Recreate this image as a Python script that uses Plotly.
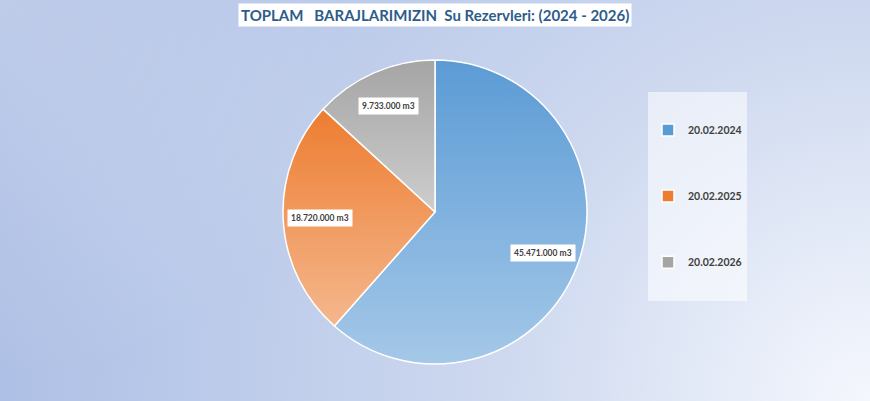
import base64
import math
import plotly.graph_objects as go

# ---- data ----
dates = ["20.02.2024", "20.02.2025", "20.02.2026"]
volumes = [45471000, 18720000, 9733000]
unit = "m3"
title_text = "TOPLAM\u00a0\u00a0\u00a0BARAJLARIMIZIN\u00a0\u00a0Su Rezervleri: (2024 - 2026)"

# ---- style ----
colors = ["#5b9bd5", "#ed7d31", "#a5a5a5"]
W, H = 870, 401
CX, CY, R = 435, 212, 152
LABEL_R = 0.76


def fmt(v):
    return f"{v:,}".replace(",", ".") + " " + unit


def b64svg(svg):
    return "data:image/svg+xml;base64," + base64.b64encode(svg.encode("utf-8")).decode("ascii")


# background gradient
bg_svg = f'''<svg xmlns="http://www.w3.org/2000/svg" width="{W}" height="{H}" viewBox="0 0 {W} {H}" preserveAspectRatio="none">
<defs>
<radialGradient id="g1" cx="{W}" cy="{H}" r="950" gradientUnits="userSpaceOnUse">
<stop offset="0" stop-color="#f5f7fd"/>
<stop offset="0.15" stop-color="#e6ecf8"/>
<stop offset="0.4" stop-color="#cdd8ef"/>
<stop offset="0.75" stop-color="#b8c8e9"/>
<stop offset="1" stop-color="#a9bbe3"/>
</radialGradient>
<radialGradient id="g2" cx="0" cy="0" r="380" gradientUnits="userSpaceOnUse">
<stop offset="0" stop-color="#ffffff" stop-opacity="0.25"/>
<stop offset="1" stop-color="#ffffff" stop-opacity="0"/>
</radialGradient>
</defs>
<rect width="{W}" height="{H}" fill="url(#g1)"/>
<rect width="{W}" height="{H}" fill="url(#g2)"/>
</svg>'''

# per-slice white sheen (gradient within each slice), derived from data
total = sum(volumes)
paths = []
mids = []
a0 = 0.0
for v in volumes:
    a1 = a0 + v / total * 2 * math.pi
    p0 = (R + R * math.sin(a0), R - R * math.cos(a0))
    p1 = (R + R * math.sin(a1), R - R * math.cos(a1))
    large = 1 if (a1 - a0) > math.pi else 0
    paths.append(f'<path d="M{R},{R} L{p0[0]:.3f},{p0[1]:.3f} A{R},{R} 0 {large} 1 {p1[0]:.3f},{p1[1]:.3f} Z" fill="url(#sg)"/>')
    mids.append((a0 + a1) / 2)
    a0 = a1
sheen_svg = f'''<svg xmlns="http://www.w3.org/2000/svg" width="{2*R}" height="{2*R}" viewBox="0 0 {2*R} {2*R}">
<defs><linearGradient id="sg" x1="0" y1="0" x2="0" y2="1">
<stop offset="0" stop-color="#ffffff" stop-opacity="0"/>
<stop offset="1" stop-color="#ffffff" stop-opacity="0.45"/>
</linearGradient></defs>
{''.join(paths)}
</svg>'''

sp = "\u00a0"
legend_names = [f"{sp}<br>{sp}<br><span style='font-size:10.5px'><b>{d}</b></span><br>{sp}<br>{sp}" for d in dates]

fig = go.Figure(
    go.Pie(
        labels=legend_names,
        values=volumes,
        sort=False,
        direction="clockwise",
        rotation=0,
        marker=dict(colors=colors, line=dict(color="white", width=1.5)),
        textinfo="none",
        hoverinfo="skip",
        domain=dict(x=[(CX - R) / W, (CX + R) / W], y=[1 - (CY + R) / H, 1 - (CY - R) / H]),
    )
)

annotations = [
    dict(
        text="<b>" + title_text + "</b>",
        x=CX / W, y=1 - 15 / H, xref="paper", yref="paper",
        xanchor="center", yanchor="middle", showarrow=False,
        font=dict(family="Lato", size=15, color="#2e5c8a"),
        bgcolor="white", borderpad=2,
    )
]
for v, m in zip(volumes, mids):
    px = CX + LABEL_R * R * math.sin(m)
    py = CY - LABEL_R * R * math.cos(m)
    annotations.append(dict(
        text="<b>" + fmt(v) + "</b>",
        x=px / W, y=1 - py / H, xref="paper", yref="paper",
        xanchor="center", yanchor="middle", showarrow=False,
        font=dict(family="Lato", size=8.5, color="#404040"),
        bgcolor="white", borderpad=3,
    ))

fig.update_layout(
    width=W, height=H, autosize=False,
    margin=dict(l=0, r=0, t=0, b=0),
    paper_bgcolor="#c8d4ee",
    plot_bgcolor="rgba(0,0,0,0)",
    images=[
        dict(source=b64svg(bg_svg), xref="paper", yref="paper", x=0, y=1,
             sizex=1, sizey=1, xanchor="left", yanchor="top", sizing="stretch", layer="below"),
        dict(source=b64svg(sheen_svg), xref="paper", yref="paper",
             x=(CX - R) / W, y=1 - (CY - R) / H, sizex=2 * R / W, sizey=2 * R / H,
             xanchor="left", yanchor="top", sizing="stretch", layer="above"),
    ],
    annotations=annotations,
    showlegend=True,
    legend=dict(
        x=648 / W, xanchor="left", y=1 - 92 / H, yanchor="top",
        bgcolor="rgba(255,255,255,0.55)", borderwidth=0,
        font=dict(family="Lato", size=9.7, color="#404040"),
        itemwidth=30, traceorder="normal",
    ),
)

fig.write_html(
    "out.html",
    config={"displayModeBar": False},
    post_script="document.body.style.margin='0';document.body.style.padding='0';",
)
